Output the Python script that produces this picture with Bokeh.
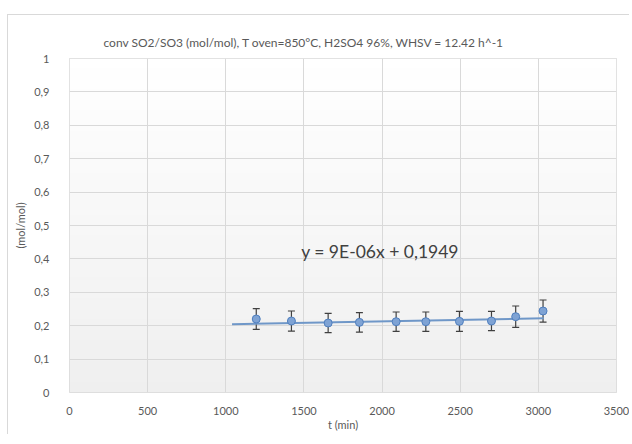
import numpy as np
from bokeh.plotting import figure
from bokeh.models import (ColumnDataSource, Whisker, TeeHead, FixedTicker, Range1d)
from bokeh.core.properties import value
from bokeh.embed import file_html
from bokeh.resources import INLINE

# ---- data ----
t_min = [1195, 1420, 1655, 1855, 2090, 2280, 2495, 2700, 2855, 3030]
conv = [0.220, 0.214, 0.208, 0.210, 0.212, 0.212, 0.213, 0.214, 0.227, 0.244]
err = [0.031, 0.030, 0.029, 0.029, 0.029, 0.029, 0.030, 0.029, 0.032, 0.033]

trend_slope = 9e-06
trend_intercept = 0.1949
trend_x = [1040, 3035]
trend_label = "y = 9E-06x + 0,1949"
trend_label_pos = (1987, 0.421)

x_ticks = [0, 500, 1000, 1500, 2000, 2500, 3000, 3500]
y_ticks = [0, 0.1, 0.2, 0.3, 0.4, 0.5, 0.6, 0.7, 0.8, 0.9, 1.0]
y_tick_labels = ["0", "0,1", "0,2", "0,3", "0,4", "0,5", "0,6", "0,7", "0,8", "0,9", "1"]

title_text = "conv SO2/SO3 (mol/mol),  T oven=850°C,   H2SO4 96%,   WHSV = 12.42 h^-1"
x_label = "t (min)"
y_label = "(mol/mol)"

FONT = "Lato"
GRAY = "#595959"

p = figure(width=622, height=420, output_backend="svg", toolbar_location=None,
           x_range=Range1d(0, 3500), y_range=Range1d(0, 1),
           min_border_left=61, min_border_right=14, min_border_top=43,
           min_border_bottom=43)
p.styles = {"border-left": "1px solid #d9d9d9", "border-top": "1px solid #d9d9d9",
            "margin-top": "14px", "margin-left": "7px"}

# background gradient of plot area
grad = np.zeros((64, 1), dtype=np.uint32)
view = grad.view(dtype=np.uint8).reshape((64, 1, 4))
for i in range(64):
    frac = i / 63.0  # 0 bottom -> 1 top
    c = int(round(239 + (255 - 239) * frac))
    view[i, 0, :] = [c, c, c, 255]
p.image_rgba(image=[grad], x=0, y=0, dw=3500, dh=1, level="image")

p.outline_line_color = "#d9d9d9"
p.background_fill_color = "white"
p.border_fill_color = "white"

p.title.text = title_text
p.title.align = "left"
p.title.offset = 34
p.title.text_font = FONT
p.title.text_font_size = "12px"
p.title.text_font_style = "normal"
p.title.text_color = GRAY
p.title.standoff = 17

for ax in (p.xaxis[0], p.yaxis[0]):
    ax.axis_line_color = None
    ax.major_tick_line_color = None
    ax.minor_tick_line_color = None
    ax.major_label_text_font = FONT
    ax.major_label_text_font_size = "11px"
    ax.major_label_text_color = GRAY
    ax.axis_label_text_font = FONT
    ax.axis_label_text_font_size = "11px"
    ax.axis_label_text_font_style = "normal"
    ax.axis_label_text_color = GRAY

p.xaxis.ticker = FixedTicker(ticks=x_ticks)
p.yaxis.ticker = FixedTicker(ticks=y_ticks)
p.yaxis.major_label_overrides = {t: l for t, l in zip(y_ticks, y_tick_labels)}
p.xaxis.axis_label = x_label
p.yaxis.axis_label = y_label
p.xaxis.major_label_standoff = 8
p.yaxis.major_label_standoff = 14
p.xaxis.axis_label_standoff = 0
p.yaxis.axis_label_standoff = 4

p.xgrid.grid_line_color = "#d9d9d9"
p.ygrid.grid_line_color = "#d9d9d9"

src = ColumnDataSource(dict(x=t_min, y=conv,
                            lo=[c - e for c, e in zip(conv, err)],
                            hi=[c + e for c, e in zip(conv, err)]))

# trendline
ty = [trend_slope * x + trend_intercept for x in trend_x]
p.line(trend_x, ty, line_color="#6f97c8", line_width=2)

w = Whisker(source=src, base="x", upper="hi", lower="lo", line_color="#404040",
            line_width=1.2,
            upper_head=TeeHead(size=7, line_color="#404040", line_width=1.2),
            lower_head=TeeHead(size=7, line_color="#404040", line_width=1.2))
p.add_layout(w)

p.scatter("x", "y", source=src, size=8, fill_color="#7fa3d4",
          line_color="#4f7fbf", line_width=1)

p.text(x=[trend_label_pos[0]], y=[trend_label_pos[1]], text=[trend_label],
       text_font=value(FONT), text_font_size="17.5px", text_color="#404040",
       text_align="center", text_baseline="middle")

open("out.html", "w").write(file_html(p, INLINE))
